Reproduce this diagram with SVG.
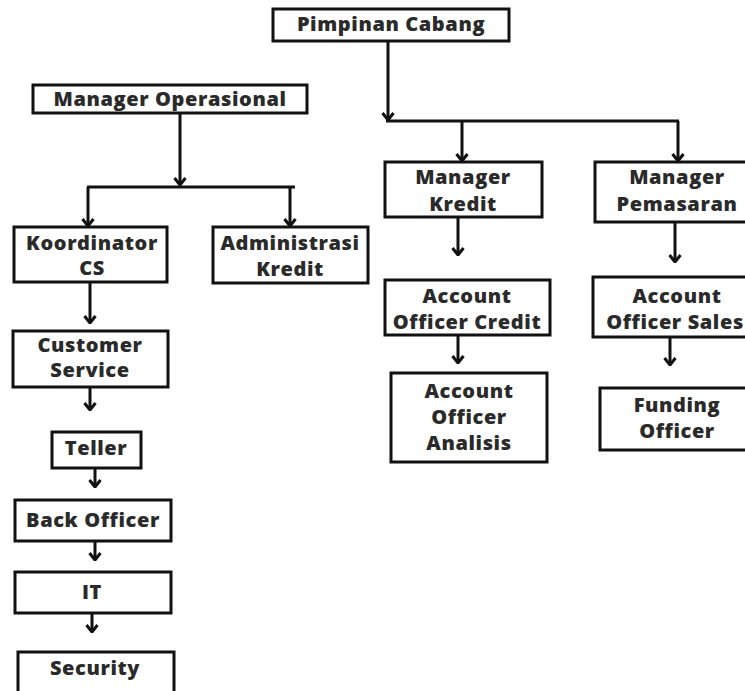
<svg xmlns="http://www.w3.org/2000/svg" width="745" height="691" viewBox="0 0 745 691">
<defs>
<style>
.box{fill:#fff;stroke:#111;stroke-width:3}
.t{font-family:"Open Sans","Noto Sans",sans-serif;font-weight:800;font-size:20px;letter-spacing:0.6px;fill:#2a2a2a;text-anchor:middle}
.c{fill:none;stroke:#111;stroke-width:3}
</style>
<marker id="ah" viewBox="0 0 10 14" refX="9" refY="7" markerWidth="10" markerHeight="14" markerUnits="userSpaceOnUse" orient="auto">
<path d="M2,1.5 L9,7 L2,12.5" fill="none" stroke="#111" stroke-width="3"/>
</marker>
</defs>
<rect width="745" height="691" fill="#fff"/>
<g id="connectors">
<path class="c" d="M388,41 V120" marker-end="url(#ah)"/>
<path class="c" d="M386,121 H679"/>
<path class="c" d="M462,121 V161" marker-end="url(#ah)"/>
<path class="c" d="M678,121 V161" marker-end="url(#ah)"/>
<path class="c" d="M180,113 V185" marker-end="url(#ah)"/>
<path class="c" d="M87,187 H295"/>
<path class="c" d="M88,187 V226" marker-end="url(#ah)"/>
<path class="c" d="M290,187 V226" marker-end="url(#ah)"/>
<path class="c" d="M90,282 V323" marker-end="url(#ah)"/>
<path class="c" d="M90,387 V410" marker-end="url(#ah)"/>
<path class="c" d="M95,468 V487" marker-end="url(#ah)"/>
<path class="c" d="M95,541 V560" marker-end="url(#ah)"/>
<path class="c" d="M92,613 V632" marker-end="url(#ah)"/>
<path class="c" d="M458,217 V255" marker-end="url(#ah)"/>
<path class="c" d="M458,335 V363" marker-end="url(#ah)"/>
<path class="c" d="M675,222 V262" marker-end="url(#ah)"/>
<path class="c" d="M670,337 V365" marker-end="url(#ah)"/>
</g>
<g id="pimpinan"><rect class="box" x="273" y="9" width="236" height="32"/><text class="t" x="391" y="31">Pimpinan Cabang</text></g>
<g id="mgr-ops"><rect class="box" x="33" y="85" width="274" height="28"/><text class="t" x="170" y="106">Manager Operasional</text></g>
<g id="koordinator"><rect class="box" x="14" y="227" width="153" height="55"/><text class="t" x="92" y="250">Koordinator</text><text class="t" x="92" y="275">CS</text></g>
<g id="administrasi"><rect class="box" x="213" y="227" width="155" height="56"/><text class="t" x="290" y="250">Administrasi</text><text class="t" x="290" y="276">Kredit</text></g>
<g id="customer-service"><rect class="box" x="13" y="331" width="155" height="56"/><text class="t" x="90" y="352">Customer</text><text class="t" x="90" y="377">Service</text></g>
<g id="teller"><rect class="box" x="52" y="432" width="89" height="36"/><text class="t" x="96" y="455">Teller</text></g>
<g id="back-officer"><rect class="box" x="15" y="500" width="156" height="41"/><text class="t" x="93" y="527">Back Officer</text></g>
<g id="it"><rect class="box" x="15" y="572" width="156" height="41"/><text class="t" x="92" y="599">IT</text></g>
<g id="security"><rect class="box" x="18" y="652" width="156" height="45"/><text class="t" x="95" y="675">Security</text></g>
<g id="mgr-kredit"><rect class="box" x="385" y="162" width="157" height="55"/><text class="t" x="463" y="184">Manager</text><text class="t" x="463" y="211">Kredit</text></g>
<g id="ao-credit"><rect class="box" x="385" y="280" width="165" height="55"/><text class="t" x="467" y="303">Account</text><text class="t" x="467" y="329">Officer Credit</text></g>
<g id="ao-analisis"><rect class="box" x="391" y="373" width="156" height="89"/><text class="t" x="469" y="398">Account</text><text class="t" x="469" y="424">Officer</text><text class="t" x="469" y="450">Analisis</text></g>
<g id="mgr-pemasaran"><rect class="box" x="595" y="162" width="160" height="60"/><text class="t" x="677" y="184">Manager</text><text class="t" x="677" y="211">Pemasaran</text></g>
<g id="ao-sales"><rect class="box" x="593" y="277" width="162" height="60"/><text class="t" x="677" y="303">Account</text><text class="t" x="675" y="329">Officer Sales</text></g>
<g id="funding"><rect class="box" x="600" y="388" width="155" height="62"/><text class="t" x="677" y="412">Funding</text><text class="t" x="677" y="438">Officer</text></g>
</svg>
